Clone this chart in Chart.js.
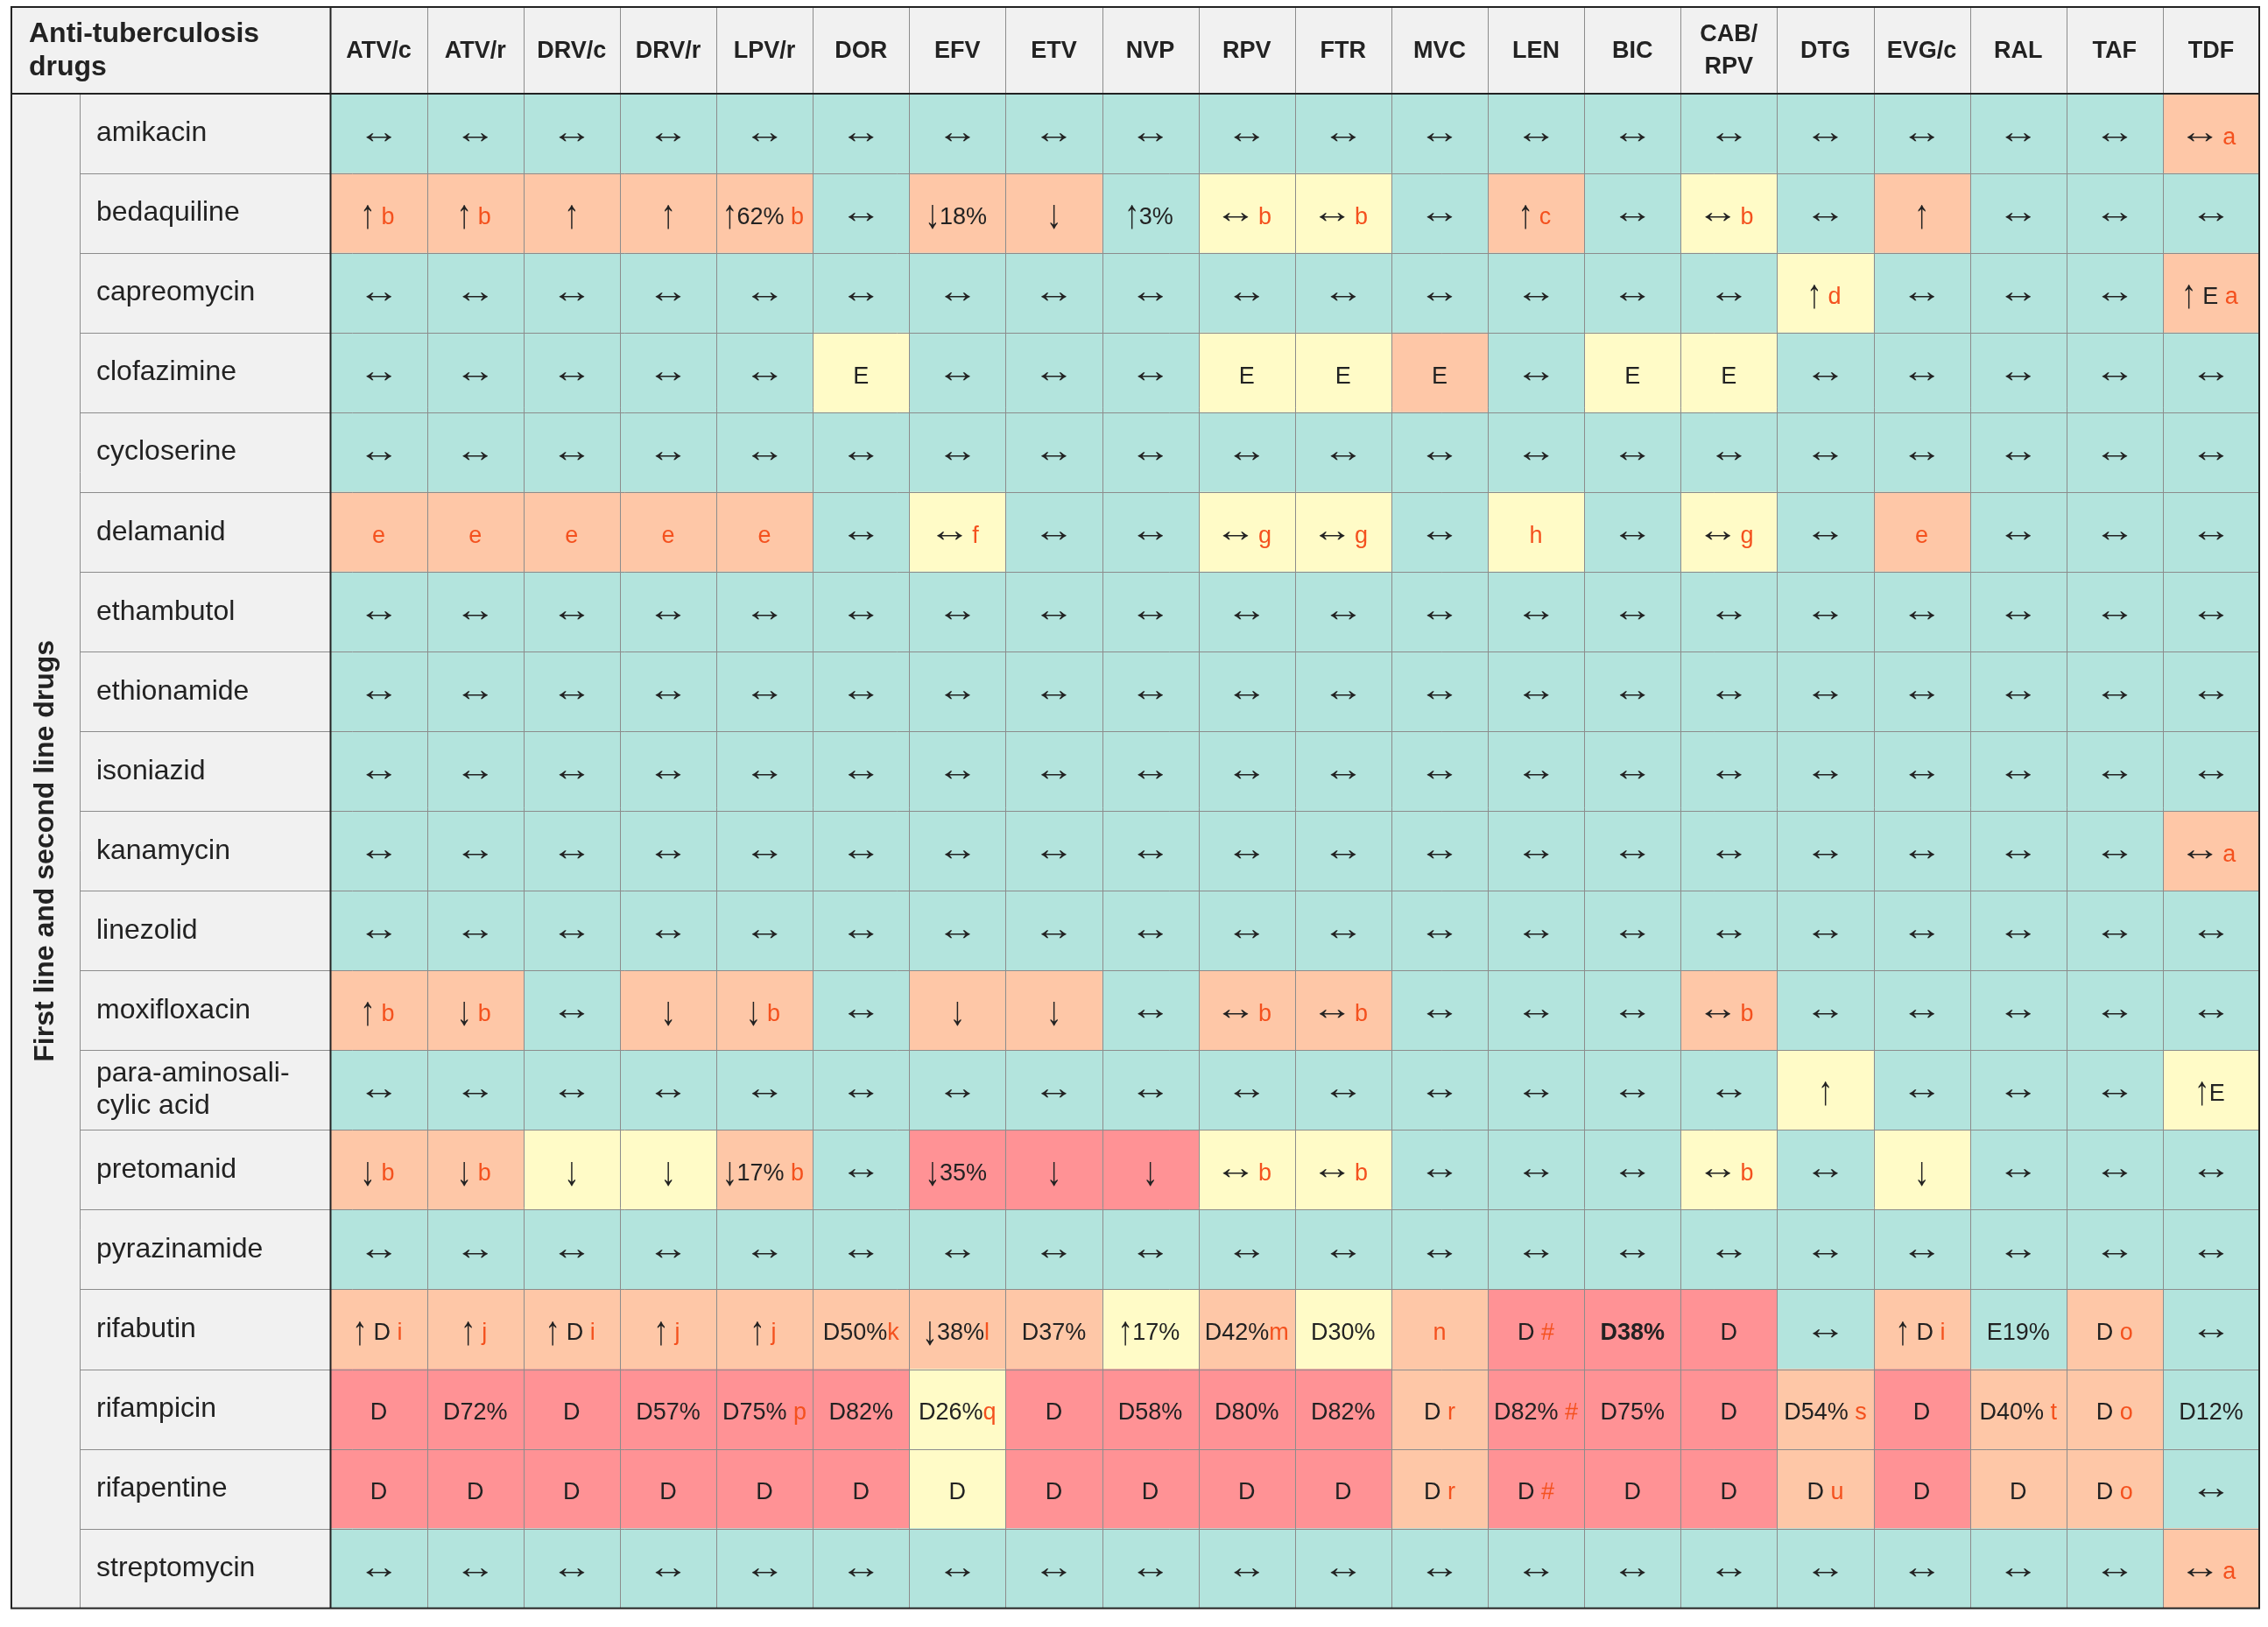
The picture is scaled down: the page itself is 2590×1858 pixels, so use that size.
<!DOCTYPE html>
<html>
<head>
    <meta charset="utf-8">
    <title>Anti-tuberculosis drugs - interaction table</title>
    <script src="https://cdn.jsdelivr.net/npm/chart.js@4.4.0/dist/chart.umd.min.js"></script>
    <style>
        body { margin: 0; background: #fff; }
        #wrap { width: 2590px; height: 1858px; }
    </style>
</head>
<body>
<div id="wrap"><canvas id="interactionChart"></canvas></div>
<script>
    // columns: HIV drugs
    const hivDrugs = ['ATV/c', 'ATV/r', 'DRV/c', 'DRV/r', 'LPV/r', 'DOR', 'EFV', 'ETV', 'NVP', 'RPV',
        'FTR', 'MVC', 'LEN', 'BIC', ['CAB/', 'RPV'], 'DTG', 'EVG/c', 'RAL', 'TAF', 'TDF'];

    // rows: anti-tuberculosis drugs
    const tbDrugs = ['amikacin', 'bedaquiline', 'capreomycin', 'clofazimine', 'cycloserine', 'delamanid',
        'ethambutol', 'ethionamide', 'isoniazid', 'kanamycin', 'linezolid', 'moxifloxacin',
        ['para-aminosali-', 'cylic acid'], 'pretomanid', 'pyrazinamide', 'rifabutin', 'rifampicin',
        'rifapentine', 'streptomycin'];

    const cornerTitle = ['Anti-tuberculosis', 'drugs'];
    const groupTitle = 'First line and second line drugs';

    // g = no interaction, y = weak, o = potential interaction, r = do not co-administer
    const cellCodes = [
        'gggggggggggggggggggo', // amikacin
        'ooooogoogyygogygoggg', // bedaquiline
        'gggggggggggggggygggo', // capreomycin
        'gggggygggyyogyyggggg', // clofazimine
        'gggggggggggggggggggg', // cycloserine
        'ooooogyggyygygygoggg', // delamanid
        'gggggggggggggggggggg', // ethambutol
        'gggggggggggggggggggg', // ethionamide
        'gggggggggggggggggggg', // isoniazid
        'gggggggggggggggggggo', // kanamycin
        'gggggggggggggggggggg', // linezolid
        'oogoogoogoogggoggggg', // moxifloxacin
        'gggggggggggggggygggy', // para-aminosalicylic acid
        'ooyyogrrryygggygyggg', // pretomanid
        'gggggggggggggggggggg', // pyrazinamide
        'ooooooooyoyorrrgogog', // rifabutin
        'rrrrrryrrrrorrroroog', // rifampicin
        'rrrrrryrrrrorrroroog', // rifapentine
        'gggggggggggggggggggo'  // streptomycin
    ];

    // cell text: text after '^' is the footnote letter, leading '*' = bold
    const cellTexts = [
        ['↔', '↔', '↔', '↔', '↔', '↔', '↔', '↔', '↔', '↔', '↔', '↔', '↔', '↔', '↔', '↔', '↔', '↔', '↔', '↔ ^a'],
        ['↑ ^b', '↑ ^b', '↑', '↑', '↑62% ^b', '↔', '↓18%', '↓', '↑3%', '↔ ^b', '↔ ^b', '↔', '↑ ^c', '↔', '↔ ^b', '↔', '↑', '↔', '↔', '↔'],
        ['↔', '↔', '↔', '↔', '↔', '↔', '↔', '↔', '↔', '↔', '↔', '↔', '↔', '↔', '↔', '↑ ^d', '↔', '↔', '↔', '↑ E ^a'],
        ['↔', '↔', '↔', '↔', '↔', 'E', '↔', '↔', '↔', 'E', 'E', 'E', '↔', 'E', 'E', '↔', '↔', '↔', '↔', '↔'],
        ['↔', '↔', '↔', '↔', '↔', '↔', '↔', '↔', '↔', '↔', '↔', '↔', '↔', '↔', '↔', '↔', '↔', '↔', '↔', '↔'],
        ['^e', '^e', '^e', '^e', '^e', '↔', '↔ ^f', '↔', '↔', '↔ ^g', '↔ ^g', '↔', '^h', '↔', '↔ ^g', '↔', '^e', '↔', '↔', '↔'],
        ['↔', '↔', '↔', '↔', '↔', '↔', '↔', '↔', '↔', '↔', '↔', '↔', '↔', '↔', '↔', '↔', '↔', '↔', '↔', '↔'],
        ['↔', '↔', '↔', '↔', '↔', '↔', '↔', '↔', '↔', '↔', '↔', '↔', '↔', '↔', '↔', '↔', '↔', '↔', '↔', '↔'],
        ['↔', '↔', '↔', '↔', '↔', '↔', '↔', '↔', '↔', '↔', '↔', '↔', '↔', '↔', '↔', '↔', '↔', '↔', '↔', '↔'],
        ['↔', '↔', '↔', '↔', '↔', '↔', '↔', '↔', '↔', '↔', '↔', '↔', '↔', '↔', '↔', '↔', '↔', '↔', '↔', '↔ ^a'],
        ['↔', '↔', '↔', '↔', '↔', '↔', '↔', '↔', '↔', '↔', '↔', '↔', '↔', '↔', '↔', '↔', '↔', '↔', '↔', '↔'],
        ['↑ ^b', '↓ ^b', '↔', '↓', '↓ ^b', '↔', '↓', '↓', '↔', '↔ ^b', '↔ ^b', '↔', '↔', '↔', '↔ ^b', '↔', '↔', '↔', '↔', '↔'],
        ['↔', '↔', '↔', '↔', '↔', '↔', '↔', '↔', '↔', '↔', '↔', '↔', '↔', '↔', '↔', '↑', '↔', '↔', '↔', '↑E'],
        ['↓ ^b', '↓ ^b', '↓', '↓', '↓17% ^b', '↔', '↓35%', '↓', '↓', '↔ ^b', '↔ ^b', '↔', '↔', '↔', '↔ ^b', '↔', '↓', '↔', '↔', '↔'],
        ['↔', '↔', '↔', '↔', '↔', '↔', '↔', '↔', '↔', '↔', '↔', '↔', '↔', '↔', '↔', '↔', '↔', '↔', '↔', '↔'],
        ['↑ D ^i', '↑ ^j', '↑ D ^i', '↑ ^j', '↑ ^j', 'D50%^k', '↓38%^l', 'D37%', '↑17%', 'D42%^m', 'D30%', '^n', 'D ^#', '*D38%', 'D', '↔', '↑ D ^i', 'E19%', 'D ^o', '↔'],
        ['D', 'D72%', 'D', 'D57%', 'D75% ^p', 'D82%', 'D26%^q', 'D', 'D58%', 'D80%', 'D82%', 'D ^r', 'D82% ^#', 'D75%', 'D', 'D54% ^s', 'D', 'D40% ^t', 'D ^o', 'D12%'],
        ['D', 'D', 'D', 'D', 'D', 'D', 'D', 'D', 'D', 'D', 'D', 'D ^r', 'D ^#', 'D', 'D', 'D ^u', 'D', 'D', 'D ^o', '↔'],
        ['↔', '↔', '↔', '↔', '↔', '↔', '↔', '↔', '↔', '↔', '↔', '↔', '↔', '↔', '↔', '↔', '↔', '↔', '↔', '↔ ^a']
    ];

    const colourOf = { g: '#b3e4dd', y: '#fffbc7', o: '#fec7a7', r: '#ff9295' };
    const FONT = "'Liberation Sans', Arial, sans-serif";
    const textColour = '#222222';
    const noteColour = '#f4511e';
    const labelIndent = 19;
    const cellFontSize = 27;

    // one dataset per HIV drug column, stacked across the rows
    const datasets = hivDrugs.map((drug, c) => ({
        label: Array.isArray(drug) ? drug.join('') : drug,
        data: tbDrugs.map(() => 1),
        backgroundColor: tbDrugs.map((_, r) => colourOf[cellCodes[r][c]]),
        borderWidth: 0,
        barPercentage: 1,
        categoryPercentage: 1
    }));

    // the arrow glyphs are small in this font: size them up and squeeze them a bit thinner
    let arrowMetrics = null;
    function getArrowMetrics(ctx) {
        if (arrowMetrics) return arrowMetrics;
        arrowMetrics = {};
        ctx.save();
        ctx.font = '100px ' + FONT;
        for (const ch of ['↑', '↓', '↔']) {
            const m = ctx.measureText(ch);
            const asc = m.actualBoundingBoxAscent, desc = m.actualBoundingBoxDescent;
            const l = m.actualBoundingBoxLeft, r = m.actualBoundingBoxRight;
            let size, sx = 1, sy = 1, oy;
            if (ch === '↔') {
                size = 100 * 29 / (l + r);
                sy = 0.8;
                oy = -8 - sy * (desc - asc) * size / 200;
            } else {
                size = 100 * 28 / (asc + desc);
                sx = 0.75;
                oy = asc * size / 100 - 22;
            }
            arrowMetrics[ch] = {
                font: size.toFixed(2) + 'px ' + FONT,
                left: l * size / 100 * sx,
                width: (l + r) * size / 100 * sx,
                sx: sx, sy: sy, dy: oy
            };
        }
        ctx.restore();
        return arrowMetrics;
    }

    function buildRuns(ctx, main, note, bold) {
        const am = getArrowMetrics(ctx);
        const textFont = (bold ? 'bold ' : '') + cellFontSize + 'px ' + FONT;
        const runs = [];
        let buf = '';
        const flush = () => {
            if (!buf) return;
            ctx.font = textFont;
            runs.push({ text: buf, font: textFont, colour: textColour, dx: 0, dy: 0, sx: 1, sy: 1, width: ctx.measureText(buf).width });
            buf = '';
        };
        for (const ch of main) {
            if (am[ch]) {
                flush();
                const a = am[ch];
                runs.push({ text: ch, font: a.font, colour: textColour, dx: a.left + 1, dy: a.dy, sx: a.sx, sy: a.sy, width: a.width + 5 });
            } else {
                buf += ch;
            }
        }
        flush();
        if (note) {
            const nf = cellFontSize + 'px ' + FONT;
            ctx.font = nf;
            runs.push({ text: note, font: nf, colour: noteColour, dx: 0, dy: 0, sx: 1, sy: 1, width: ctx.measureText(note).width });
        }
        return runs;
    }

    const tablePlugin = {
        id: 'tableFrame',
        beforeDraw(chart) {
            const { ctx, chartArea: a, scales } = chart;
            const left = scales.y2.left, top = scales.x.top;
            ctx.save();
            ctx.fillStyle = '#f1f1f1';
            ctx.fillRect(left, top, a.right - left, a.bottom - top);
            ctx.restore();
        },
        afterDatasetsDraw(chart) {
            const { ctx, chartArea: a, scales: { x, y, y2 } } = chart;
            const tLeft = y2.left, tTop = x.top, tRight = a.right, tBottom = a.bottom;
            const groupX = Math.round(y.left - labelIndent) + 0.5;

            // cell texts
            ctx.save();
            ctx.textBaseline = 'alphabetic';
            ctx.textAlign = 'left';
            chart.data.datasets.forEach((ds, c) => {
                chart.getDatasetMeta(c).data.forEach((bar, r) => {
                    let s = cellTexts[r][c];
                    const bold = s.startsWith('*');
                    if (bold) s = s.slice(1);
                    const parts = s.split('^');
                    const runs = buildRuns(ctx, parts[0], parts[1] || '', bold);
                    // trailing arrow padding is only needed when something follows
                    const last = runs[runs.length - 1];
                    const total = runs.reduce((t, run) => t + run.width, 0) - (last.sx !== 1 || last.sy !== 1 ? 3 : 0);
                    const p = bar.getCenterPoint();
                    let tx = p.x - total / 2;
                    const base = p.y + 12;
                    runs.forEach(run => {
                        ctx.save();
                        ctx.font = run.font;
                        ctx.fillStyle = run.colour;
                        ctx.translate(tx + run.dx, base + run.dy);
                        ctx.scale(run.sx, run.sy);
                        ctx.fillText(run.text, 0, 0);
                        ctx.restore();
                        tx += run.width;
                    });
                });
            });

            // thin grid
            ctx.lineWidth = 1;
            ctx.strokeStyle = '#8c8c8c';
            ctx.beginPath();
            for (let c = 1; c < hivDrugs.length; c++) {
                const px = Math.round(x.getPixelForValue(c)) + 0.5;
                ctx.moveTo(px, tTop);
                ctx.lineTo(px, tBottom);
            }
            for (let r = 1; r < tbDrugs.length; r++) {
                const py = Math.round(y.getPixelForValue(r - 0.5)) + 0.5;
                ctx.moveTo(groupX, py);
                ctx.lineTo(tRight, py);
            }
            ctx.moveTo(groupX, a.top);
            ctx.lineTo(groupX, tBottom);
            ctx.stroke();

            // dark frame lines
            ctx.lineWidth = 2;
            ctx.strokeStyle = '#222222';
            ctx.beginPath();
            ctx.moveTo(tLeft, a.top);
            ctx.lineTo(tRight, a.top);
            ctx.moveTo(a.left, tTop);
            ctx.lineTo(a.left, tBottom);
            ctx.stroke();
            ctx.strokeRect(tLeft, tTop, tRight - tLeft, tBottom - tTop);

            // corner header
            ctx.textBaseline = 'middle';
            ctx.font = 'bold 32px ' + FONT;
            ctx.fillStyle = textColour;
            const mid = (x.top + x.bottom) / 2;
            ctx.fillText(cornerTitle[0], tLeft + 20, mid - 18);
            ctx.fillText(cornerTitle[1], tLeft + 20, mid + 20);
            ctx.restore();
        }
    };

    new Chart(document.getElementById('interactionChart'), {
        type: 'bar',
        data: { labels: tbDrugs, datasets: datasets },
        plugins: [tablePlugin],
        options: {
            indexAxis: 'y',
            responsive: true,
            maintainAspectRatio: false,
            devicePixelRatio: 1,
            animation: false,
            events: [],
            layout: { padding: { left: 13, top: 8, right: 10, bottom: 16 } },
            plugins: { legend: { display: false }, tooltip: { enabled: false } },
            scales: {
                x: {
                    type: 'linear',
                    position: 'top',
                    stacked: true,
                    min: 0,
                    max: hivDrugs.length,
                    grid: { display: false, drawTicks: false },
                    border: { display: false },
                    afterBuildTicks: s => { s.ticks = hivDrugs.map((_, i) => ({ value: i + 0.5 })); },
                    afterFit: s => { s.height = 99; },
                    ticks: {
                        autoSkip: false,
                        maxRotation: 0,
                        padding: 30,
                        crossAlign: 'center',
                        color: textColour,
                        font: { family: FONT, size: 27, weight: 'bold', lineHeight: 1.4 },
                        callback: (v, i) => hivDrugs[i]
                    }
                },
                y: {
                    stacked: true,
                    grid: { display: false, drawTicks: false },
                    border: { display: false },
                    afterFit: s => { s.width = 267.5; },
                    ticks: {
                        autoSkip: false,
                        crossAlign: 'far',
                        color: textColour,
                        font: { family: FONT, size: 32, lineHeight: 1.15 }
                    }
                },
                y2: {
                    type: 'linear',
                    position: 'left',
                    weight: 1,
                    grid: { display: false, drawTicks: false },
                    border: { display: false },
                    ticks: { display: false },
                    afterFit: s => { s.width = 97; },
                    title: {
                        display: true,
                        text: groupTitle,
                        color: textColour,
                        font: { family: FONT, size: 32, weight: 'bold' },
                        padding: { top: 20, bottom: 0 }
                    }
                }
            }
        }
    });
</script>
</body>
</html>
